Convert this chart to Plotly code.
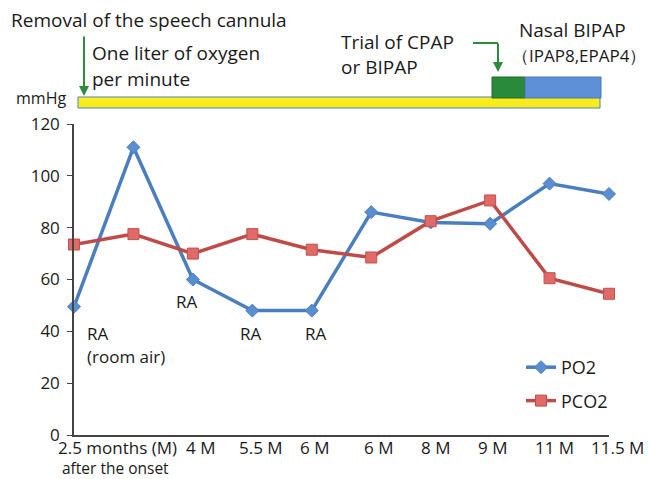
import plotly.graph_objects as go

# ---- data ----
x_index = [0, 1, 2, 3, 4, 5, 6, 7, 8, 9]
po2 = [49.5, 111, 60, 48, 48, 86, 82, 81.5, 97, 93]
pco2 = [73.5, 77.5, 70, 77.5, 71.5, 68.5, 82.5, 90.5, 60.5, 54.5]
tick_labels = ["2.5 months (M)", "4 M", "5.5 M", "6 M", "6 M",
               "8 M", "9 M", "11 M", "11.5 M"]
tick_sub = "after the onset"
y_ticks = [0, 20, 40, 60, 80, 100, 120]

FONT = "Open Sans"
TXT = "#1a1a1a"

# plot area in pixels
L, R, T, B = 74, 609, 124, 435
W, H = 649, 479


def px(x):
    return (x - L) / (R - L)


def py(y):
    return (B - y) / (B - T)


def dx(xp):
    return (xp - L) / ((R - L) / 9)


def dy(yp):
    return (B - yp) / ((B - T) / 120)


label_px = [117, 200, 261, 314, 378, 435, 492, 554, 617]

fig = go.Figure()
fig.add_trace(go.Scatter(
    x=x_index, y=po2, name="PO2", mode="lines+markers",
    line=dict(color="#4A7EBF", width=3.5),
    marker=dict(symbol="diamond", size=10, color="#5A8ED0",
                line=dict(color="#4A7EBF", width=1)),
    cliponaxis=False, legendgroup="a"))
fig.add_trace(go.Scatter(
    x=x_index, y=pco2, name="PCO2", mode="lines+markers",
    line=dict(color="#BE4B48", width=3.5),
    marker=dict(symbol="square", size=11, color="#E06A67",
                line=dict(color="#C0504D", width=1)),
    cliponaxis=False, legendgroup="b"))

shapes = [
    dict(type="rect", xref="paper", yref="paper",
         x0=px(78), x1=px(600), y0=py(108), y1=py(97),
         fillcolor="#F8EC1E", line=dict(color="#4F81BD", width=1)),
    dict(type="rect", xref="paper", yref="paper",
         x0=px(492), x1=px(525), y0=py(98), y1=py(77),
         fillcolor="#2A8A3C", line=dict(color="#1F6A2E", width=1)),
    dict(type="rect", xref="paper", yref="paper",
         x0=px(525), x1=px(601), y0=py(98), y1=py(77),
         fillcolor="#5D90D6", line=dict(color="#4A78B8", width=1)),
    dict(type="line", xref="paper", yref="paper",
         x0=px(473), x1=px(498), y0=py(43), y1=py(43),
         line=dict(color="#2E8B3E", width=2)),
]

ann = []


def text(x, y, s, size=19, anchor="left"):
    ann.append(dict(xref="paper", yref="paper", x=px(x), y=py(y), text=s,
                    showarrow=False, xanchor=anchor, yanchor="middle",
                    borderpad=0,
                    font=dict(family=FONT, size=size, color=TXT)))


text(10, 20, "Removal of the speech cannula")
text(91, 53, "One liter of oxygen")
text(91, 79, "per minute")
text(15, 98, "mmHg", size=16)
text(340, 42, "Trial of CPAP")
text(340, 67, "or BIPAP")
text(518, 30, "Nasal BIPAP")
text(511, 56, "（IPAP8,EPAP4）", size=17)

# x tick labels
for lbl, p in zip(tick_labels, label_px):
    text(p, 447, lbl, size=17, anchor="center")
text(115, 468, tick_sub, size=15.5, anchor="center")

# arrows
ann.append(dict(xref="paper", yref="paper", x=px(84), y=py(96), ax=0, ay=-61,
                text="", showarrow=True, arrowhead=2, arrowsize=1,
                arrowwidth=2, arrowcolor="#2E8B3E"))
ann.append(dict(xref="paper", yref="paper", x=px(498), y=py(72), ax=0, ay=-30,
                text="", showarrow=True, arrowhead=2, arrowsize=1,
                arrowwidth=2, arrowcolor="#2E8B3E"))


def dtext(xp, yp, s, anchor="center"):
    ann.append(dict(xref="x", yref="y", x=dx(xp), y=dy(yp),
                    text=s, showarrow=False, xanchor=anchor, yanchor="middle",
                    align="left", borderpad=0,
                    font=dict(family=FONT, size=17, color=TXT)))


dtext(86, 333, "RA", anchor="left")
dtext(86, 356, "(room air)", anchor="left")
dtext(186, 301, "RA")
dtext(250, 333, "RA")
dtext(315, 333, "RA")

fig.update_layout(
    width=W, height=H, autosize=False,
    margin=dict(l=L, r=W - R, t=T, b=H - B, autoexpand=False),
    paper_bgcolor="white", plot_bgcolor="white",
    font=dict(family=FONT, size=15, color=TXT),
    showlegend=True,
    legend=dict(x=px(521), y=py(349), xanchor="left", yanchor="top",
                font=dict(family=FONT, size=18, color=TXT),
                tracegroupgap=7, bgcolor="rgba(0,0,0,0)"),
    shapes=shapes, annotations=ann,
)
fig.update_xaxes(range=[0, 9], showticklabels=False,
                 showgrid=False, zeroline=False, showline=True,
                 linecolor="#444444", linewidth=1.5, ticks="",
                 automargin=False)
fig.update_yaxes(range=[0, 120], tickvals=y_ticks, showgrid=False,
                 zeroline=False, showline=True, linecolor="#444444",
                 linewidth=1.5, ticks="outside", ticklen=5,
                 tickcolor="#444444", automargin=False,
                 ticklabelstandoff=4,
                 tickfont=dict(family=FONT, size=17, color=TXT))

fig.write_html("out.html", config={"displayModeBar": False},
               post_script="document.body.style.margin='0';"
                           "document.body.style.padding='0';")
